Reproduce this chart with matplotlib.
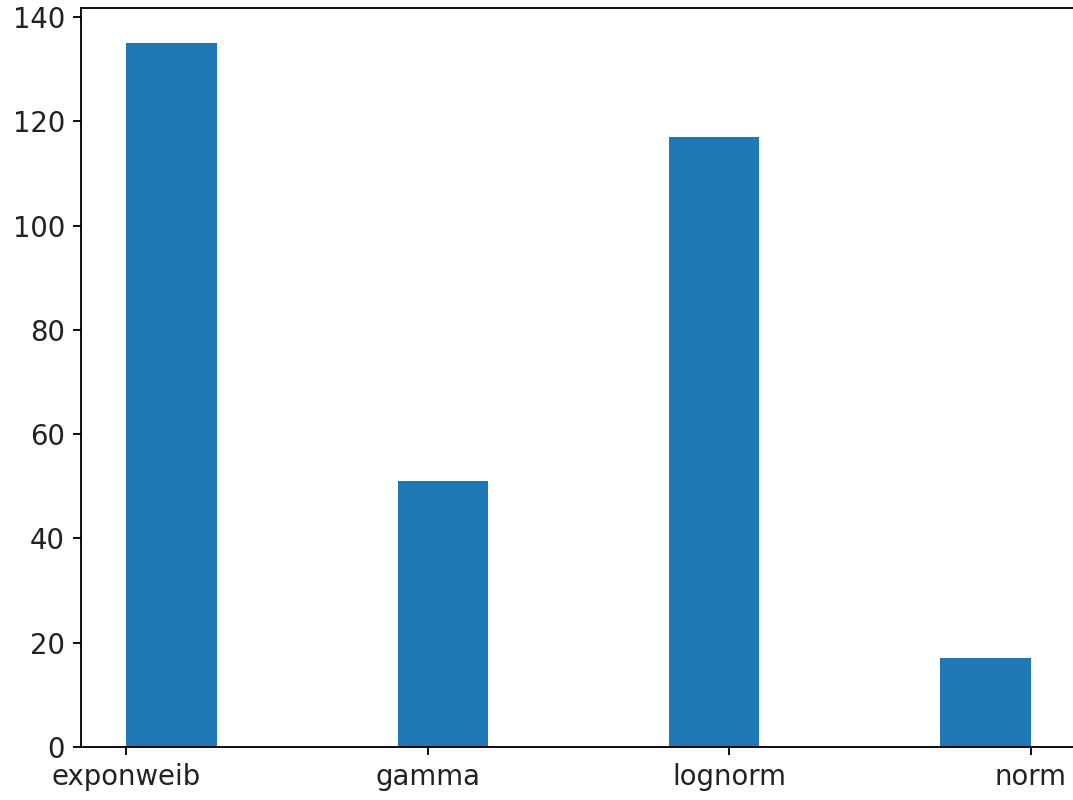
import matplotlib
matplotlib.use("Agg")
import matplotlib.pyplot as plt

# best-fit distribution counts
categories = ["exponweib", "gamma", "lognorm", "norm"]
counts = [135, 51, 117, 17]

plt.rcParams["font.size"] = 12
plt.rcParams["text.color"] = "#222222"
plt.rcParams["xtick.labelcolor"] = "#222222"
plt.rcParams["ytick.labelcolor"] = "#222222"

dpi = 165
fig = plt.figure(figsize=(1073 / dpi, 800 / dpi), dpi=dpi)
ax = fig.add_axes([81 / 1073, 53 / 800, 995 / 1073, 739 / 800])

# histogram over the categorical axis, default 10 bins
ax.hist(categories, weights=counts)

fig.savefig("out.png", dpi=dpi)
